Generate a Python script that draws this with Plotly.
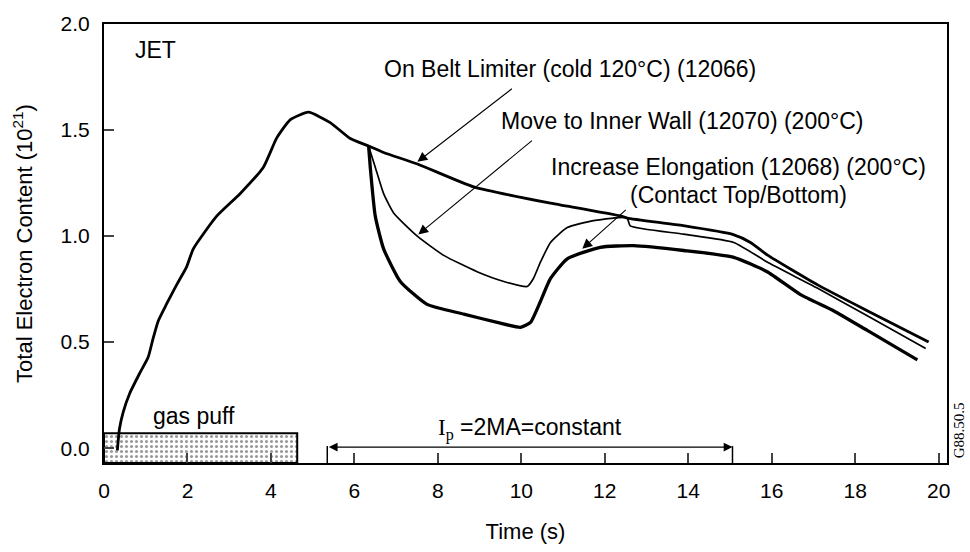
import plotly.graph_objects as go

# ---- data ----
belt_t = [0.32, 0.37, 0.46, 0.62, 0.86, 1.06, 1.18, 1.30, 1.50, 1.74, 1.98, 2.14, 2.70, 3.26,
          3.82, 4.14, 4.46, 4.90, 5.42, 5.90, 6.34, 6.70, 7.51, 8.86, 10.70, 11.10, 12.37, 12.54,
          13.88, 15.08, 15.49, 15.90, 17.10, 18.30, 19.76]
belt_v = [-0.01, 0.09, 0.17, 0.26, 0.355, 0.43, 0.52, 0.60, 0.68, 0.77, 0.855, 0.94, 1.094, 1.20,
          1.325, 1.463, 1.548, 1.584, 1.535, 1.46, 1.425, 1.394, 1.34, 1.232, 1.155, 1.141, 1.095, 1.085,
          1.049, 1.007, 0.97, 0.91, 0.77, 0.647, 0.50]

wall_t = [6.34, 6.50, 6.70, 6.94, 7.50, 8.14, 8.94, 9.58, 10.14, 10.29, 10.46, 10.70, 11.10, 11.73,
          12.53, 12.61, 13.89, 15.09, 15.89, 17.09, 18.29, 19.69]
wall_v = [1.425, 1.325, 1.20, 1.109, 1.001, 0.909, 0.832, 0.786, 0.762, 0.80, 0.878, 0.97, 1.04, 1.073,
          1.086, 1.048, 1.009, 0.97, 0.878, 0.755, 0.624, 0.47]

elong_t = [6.34, 6.38, 6.50, 6.70, 7.10, 7.74, 8.62, 9.42, 9.98, 10.22, 10.46, 10.70, 11.10, 11.89,
           12.69, 13.89, 15.09, 15.89, 16.69, 17.49, 18.29, 19.49]
elong_v = [1.425, 1.325, 1.094, 0.94, 0.786, 0.678, 0.632, 0.593, 0.57, 0.593, 0.693, 0.80, 0.893, 0.947,
           0.955, 0.932, 0.90, 0.832, 0.724, 0.647, 0.555, 0.416]

gas_puff_t = [0.0, 4.63]
gas_puff_v = [-0.07, 0.07]
ip_t = [5.35, 15.06]

x_ticks = [0, 2, 4, 6, 8, 10, 12, 14, 16, 18, 20]
y_ticks = [0.0, 0.5, 1.0, 1.5, 2.0]
y_tick_labels = ["0.0", "0.5", "1.0", "1.5", "2.0"]

FONT = "Liberation Sans, Arial, sans-serif"
SERIF = "Liberation Serif, Times New Roman, serif"

fig = go.Figure()

# gas puff box
fig.add_trace(go.Scatter(
    x=[gas_puff_t[0], gas_puff_t[1], gas_puff_t[1], gas_puff_t[0], gas_puff_t[0]],
    y=[gas_puff_v[0], gas_puff_v[0], gas_puff_v[1], gas_puff_v[1], gas_puff_v[0]],
    mode="lines", fill="toself", fillcolor="rgba(0,0,0,0)",
    fillpattern=dict(shape=".", fgcolor="#333", bgcolor="white", size=5, solidity=0.3),
    line=dict(color="black", width=2), hoverinfo="skip", showlegend=False))

fig.add_trace(go.Scatter(x=belt_t, y=belt_v, mode="lines",
                         line=dict(color="black", width=2.8, shape="spline", smoothing=0.5),
                         showlegend=False))
fig.add_trace(go.Scatter(x=wall_t, y=wall_v, mode="lines",
                         line=dict(color="black", width=1.7, shape="spline", smoothing=0.5),
                         showlegend=False))
fig.add_trace(go.Scatter(x=elong_t, y=elong_v, mode="lines",
                         line=dict(color="black", width=3.3, shape="spline", smoothing=0.5),
                         showlegend=False))

ann = []
def text(x, y, s, size=23, xanchor="center", family=FONT):
    ann.append(dict(x=x, y=y, xref="x", yref="y", text=s, showarrow=False,
                    xanchor=xanchor, yanchor="middle",
                    font=dict(family=family, size=size, color="black")))

def arrow(x0, y0, x1, y1, side="end", size=1.8):
    ann.append(dict(x=x1, y=y1, ax=x0, ay=y0, xref="x", yref="y", axref="x", ayref="y",
                    text="", showarrow=True, arrowhead=2, arrowsize=size, arrowwidth=1.1,
                    arrowcolor="black", arrowside=side))

text(0.70, 1.876, "JET", xanchor="left")
text(11.17, 1.79, "On Belt Limiter (cold 120°C) (12066)")
text(13.84, 1.543, "Move to Inner Wall (12070) (200°C)")
text(15.2, 1.326, "Increase Elongation (12068) (200°C)")
text(15.2, 1.192, "(Contact Top/Bottom)")
text(2.16, 0.152, "gas puff")
text(10.2, 0.092,
     "<span style='font-family:Liberation Serif, serif'>I<sub>p</sub></span> =2MA=constant")
ann.append(dict(x=1.014, y=0.074, xref="paper", yref="paper", text="G88.50.5",
                xanchor="center", yanchor="middle",
                showarrow=False, textangle=-90, font=dict(family=SERIF, size=15)))

arrow(9.81, 1.70, 7.51, 1.35)
arrow(10.29, 1.456, 7.53, 1.007)
arrow(12.54, 1.13, 11.46, 0.94)
arrow(ip_t[0], 0.005, ip_t[1], 0.005, side="end+start", size=1.6)

shapes = []
for xv in ip_t:
    shapes.append(dict(type="line", xref="x", yref="y", x0=xv, x1=xv, y0=-0.07, y1=0.01,
                       line=dict(color="black", width=1.5)))

fig.update_layout(
    width=970, height=552,
    margin=dict(l=104, r=23, t=17, b=87),
    paper_bgcolor="white", plot_bgcolor="white",
    annotations=ann, shapes=shapes,
    font=dict(family=FONT, size=21, color="black"),
    xaxis=dict(range=[0, 20.2], tickvals=x_ticks, ticks="inside", ticklen=10, tickwidth=2,
               showgrid=False, zeroline=False, showline=True, linecolor="black", linewidth=2,
               mirror=True, tickfont=dict(size=21), ticklabelstandoff=8,
               title=dict(text="Time (s)", font=dict(size=22), standoff=22)),
    yaxis=dict(range=[-0.07, 2.0], tickvals=y_ticks, ticktext=y_tick_labels, ticks="inside",
               ticklen=10, tickwidth=2, showgrid=False, zeroline=False, showline=True,
               linecolor="black", linewidth=2, mirror=True, tickfont=dict(size=21),
               ticklabelstandoff=8,
               title=dict(text="Total Electron Content (10<sup>21</sup>)", font=dict(size=22),
                          standoff=22)),
)

fig.write_html("out.html")
